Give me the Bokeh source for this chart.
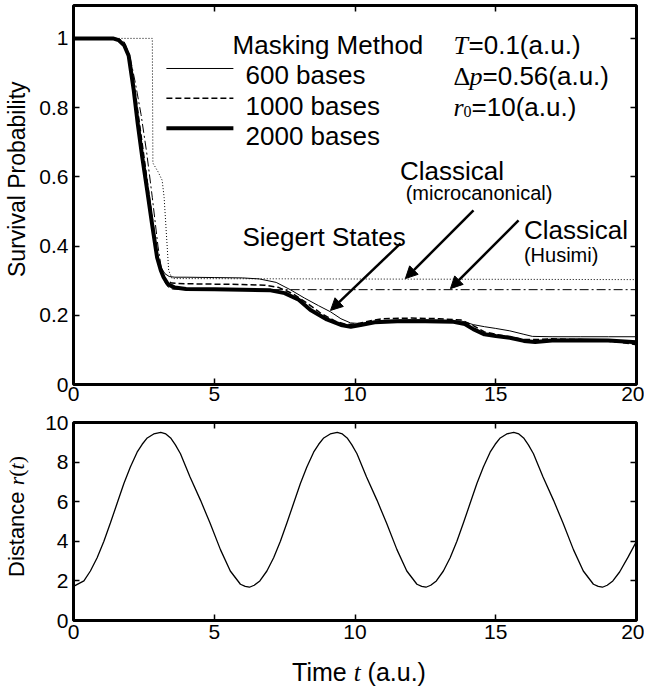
import numpy as np
from bokeh.plotting import figure
from bokeh.layouts import column, row
from bokeh.models import FixedTicker, LinearAxis, Label, Arrow, NormalHead, Range1d, Div
from bokeh.embed import file_html
from bokeh.resources import INLINE

SANS = "Liberation Sans"
SERIF = "Liberation Serif"

# ---------------- data ----------------
x_ticks = [0, 5, 10, 15, 20]
p_ticks = [0, 0.2, 0.4, 0.6, 0.8, 1]
p_tick_labels = {0: "0", 0.2: "0.2", 0.4: "0.4", 0.6: "0.6", 0.8: "0.8", 1: "1"}
r_ticks = [0, 2, 4, 6, 8, 10]

t_600 = [0, 1.4, 1.6, 1.8, 1.96, 2.14, 2.28, 2.44, 2.62, 2.79, 2.97, 3.1, 3.25, 3.4, 3.6, 4.0,
         5.0, 6.0, 6.6, 7.2, 7.7, 8.2, 8.7, 9.13, 9.5, 9.84, 10.2, 10.6, 11.0, 12.0, 13.0, 13.8,
         14.2, 14.6, 15.0, 15.5, 16.0, 16.3, 17.0, 18.0, 19.0, 20.0]
p_600 = [1.0, 1.0, 0.995, 0.98, 0.95, 0.86, 0.77, 0.67, 0.57, 0.47, 0.38, 0.34, 0.32, 0.312, 0.31, 0.31,
         0.309, 0.308, 0.305, 0.295, 0.274, 0.25, 0.228, 0.21, 0.19, 0.178, 0.176, 0.18, 0.185, 0.187, 0.186, 0.183,
         0.173, 0.167, 0.162, 0.155, 0.145, 0.139, 0.138, 0.138, 0.138, 0.138]

t_1000 = [0, 1.5, 1.7, 1.9, 2.05, 2.2, 2.35, 2.5, 2.68, 2.85, 3.0, 3.15, 3.3, 3.5, 4.0, 5.0, 6.0,
          6.8, 7.3, 7.8, 8.3, 8.8, 9.3, 9.7, 10.1, 10.6, 11.0, 12.0, 13.0, 13.8, 14.2, 14.6, 15.0,
          15.5, 16.0, 16.5, 17.0, 18.0, 18.6, 19.3, 20.0]
p_1000 = [1.0, 1.0, 0.99, 0.96, 0.92, 0.84, 0.75, 0.66, 0.55, 0.45, 0.36, 0.32, 0.3, 0.293, 0.291, 0.29, 0.289,
          0.287, 0.28, 0.262, 0.235, 0.205, 0.183, 0.173, 0.176, 0.185, 0.19, 0.192, 0.19, 0.186, 0.17, 0.152, 0.145,
          0.138, 0.13, 0.13, 0.132, 0.13, 0.128, 0.123, 0.115]

t_2000 = [0, 1.4, 1.6, 1.8, 1.96, 2.14, 2.28, 2.44, 2.62, 2.79, 2.97, 3.1, 3.2, 3.35, 3.6, 4.0, 5.0,
          6.0, 7.0, 7.5, 8.0, 8.42, 9.0, 9.5, 9.85, 10.2, 10.7, 11.5, 12.5, 13.5, 13.9, 14.2, 14.6,
          15.0, 15.5, 16.0, 16.4, 17.0, 18.0, 19.0, 20.0]
p_2000 = [1.0, 1.0, 0.995, 0.98, 0.95, 0.85, 0.755, 0.658, 0.56, 0.464, 0.367, 0.33, 0.31, 0.29, 0.28, 0.276, 0.275,
          0.274, 0.272, 0.264, 0.245, 0.215, 0.188, 0.172, 0.167, 0.172, 0.18, 0.183, 0.183, 0.181, 0.175, 0.16, 0.145,
          0.14, 0.135, 0.126, 0.123, 0.127, 0.128, 0.127, 0.122]

t_husimi = [0, 1.6, 1.8, 2.0, 2.2, 2.4, 2.6, 2.8, 3.0, 3.15, 3.3, 3.5, 4.0, 20.0]
p_husimi = [1.0, 1.0, 0.99, 0.95, 0.87, 0.78, 0.67, 0.54, 0.4, 0.32, 0.285, 0.276, 0.274, 0.274]

t_micro = [0, 2.8, 2.82, 3.0, 3.15, 3.22, 3.38, 3.5, 20.0]
p_micro = [1.0, 1.0, 0.64, 0.615, 0.59, 0.54, 0.33, 0.306, 0.303]

t_r = [0, 0.37, 0.6, 0.84, 1.08, 1.31, 1.55, 1.79, 2.02, 2.26, 2.44, 2.62, 2.85, 3.1, 3.28, 3.45, 3.62,
       3.8, 4.14, 4.51, 4.85, 5.22, 5.57, 5.93, 6.1, 6.25, 6.42,
       6.62, 6.87, 7.11, 7.35, 7.58, 7.82, 8.06, 8.29, 8.53, 8.71, 8.89, 9.12, 9.37, 9.55, 9.72, 9.89,
       10.07, 10.41, 10.78, 11.12, 11.49, 11.84, 12.2, 12.37, 12.52, 12.69,
       12.89, 13.14, 13.38, 13.62, 13.85, 14.09, 14.33, 14.56, 14.8, 14.98, 15.16, 15.39, 15.64, 15.82, 15.99, 16.16,
       16.34, 16.68, 17.05, 17.39, 17.76, 18.11, 18.47, 18.64, 18.79, 18.96,
       19.16, 19.4, 19.7, 20.0]
r_t = [1.72, 2.0, 2.5, 3.17, 4.0, 4.92, 5.92, 6.92, 7.75, 8.5, 8.9, 9.22, 9.42, 9.5, 9.42, 9.22, 8.87,
       8.42, 7.25, 6.08, 4.92, 3.58, 2.5, 1.83, 1.72, 1.68, 1.78,
       2.0, 2.5, 3.17, 4.0, 4.92, 5.92, 6.92, 7.75, 8.5, 8.9, 9.22, 9.42, 9.5, 9.42, 9.22, 8.87,
       8.42, 7.25, 6.08, 4.92, 3.58, 2.5, 1.83, 1.72, 1.68, 1.78,
       2.0, 2.5, 3.17, 4.0, 4.92, 5.92, 6.92, 7.75, 8.5, 8.9, 9.22, 9.42, 9.5, 9.42, 9.22, 8.87,
       8.42, 7.25, 6.08, 4.92, 3.58, 2.5, 1.83, 1.72, 1.68, 1.78,
       2.0, 2.45, 3.2, 4.0]

# ---------------- helpers ----------------
def style(p, yticks, overrides=None):
    p.xgrid.visible = False
    p.ygrid.visible = False
    p.outline_line_color = "black"
    p.outline_line_width = 3
    p.outline_line_alpha = 1
    for ax in p.xaxis + p.yaxis:
        ax.axis_line_color = None
        ax.major_tick_in = 6
        ax.major_tick_out = 0
        ax.major_tick_line_width = 1.5
        ax.minor_tick_line_color = None
        ax.major_label_text_font = SANS
        ax.major_label_text_font_size = "21px"
        ax.major_label_text_color = "black"
    p.xaxis.ticker = FixedTicker(ticks=x_ticks)
    p.yaxis.ticker = FixedTicker(ticks=yticks)
    p.xaxis.major_label_standoff = 2
    p.yaxis.major_label_standoff = 5
    if overrides:
        p.yaxis.major_label_overrides = overrides
    for loc, tk in (("above", x_ticks), ("right", yticks)):
        ax = LinearAxis(ticker=FixedTicker(ticks=tk), axis_line_color=None, major_tick_in=6,
                        major_tick_out=0, major_tick_line_width=1.5, minor_tick_line_color=None,
                        major_label_text_font_size="0px", major_label_text_color=None,
                        major_label_standoff=0)
        p.add_layout(ax, loc)


def txt(p, x, y, s, size="26px", font=SANS, style_="normal", xo=0, yo=0):
    p.add_layout(Label(x=x, y=y, text=s, text_font=font, text_font_size=size,
                       text_font_style=style_, text_color="black", text_baseline="alphabetic",
                       text_align="left", x_offset=xo, y_offset=yo))


def vlabel(html, height, left, top, size):
    inner = ("<div style=\"position:absolute;left:%dpx;top:%dpx;transform-origin:0 0;"
             "transform:rotate(-90deg);white-space:nowrap;font-family:'Liberation Sans';"
             "font-size:%dpx;line-height:%dpx;color:black;\">%s</div>" % (left, top, size, size, html))
    return Div(text="<div style=\"position:relative;width:30px;height:%dpx;\">%s</div>" % (height, inner),
               width=30, height=height, margin=0)


# ---------------- top panel ----------------
top = figure(width=614, height=410, x_range=Range1d(0, 20), y_range=Range1d(0, 1.095),
             min_border_left=43, min_border_right=8, min_border_top=5, min_border_bottom=26,
             output_backend="svg", toolbar_location=None)
style(top, p_ticks, p_tick_labels)

top.line(t_micro, p_micro, line_color="black", line_width=1, line_dash="1 2")
top.line(t_husimi, p_husimi, line_color="black", line_width=1, line_dash="9 3 2 3")
top.line(t_600, p_600, line_color="black", line_width=1)
top.line(t_1000, p_1000, line_color="black", line_width=1.5, line_dash="6 3")
top.line(t_2000, p_2000, line_color="black", line_width=4)

# legend
top.line([3.3, 5.68], [0.913, 0.913], line_color="black", line_width=1)
top.line([3.3, 5.68], [0.827, 0.827], line_color="black", line_width=1.5, line_dash="6 3")
top.line([3.3, 5.68], [0.740, 0.740], line_color="black", line_width=4)
txt(top, 5.65, 0.980, "Masking Method")
txt(top, 6.11, 0.893, "600 bases")
txt(top, 6.11, 0.806, "1000 bases")
txt(top, 6.11, 0.717, "2000 bases")

# parameters
txt(top, 13.5, 0.980, "T", font=SERIF, style_="italic")
txt(top, 13.5, 0.980, "=0.1(a.u.)", xo=15)
txt(top, 13.5, 0.890, "\u0394", font=SERIF)
txt(top, 13.5, 0.890, "p", font=SERIF, style_="italic", xo=16)
txt(top, 13.5, 0.890, "=0.56(a.u.)", xo=29)
txt(top, 13.5, 0.801, "r", font=SERIF, style_="italic")
txt(top, 13.5, 0.801, "0", size="16px", font=SERIF, xo=10, yo=-4)
txt(top, 13.5, 0.801, "=10(a.u.)", xo=18)

# annotations
txt(top, 11.6, 0.618, "Classical")
txt(top, 11.8, 0.552, "(microcanonical)", size="20px")
txt(top, 6.0, 0.425, "Siegert States")
txt(top, 16.0, 0.445, "Classical")
txt(top, 16.0, 0.373, "(Husimi)", size="20px")

for (xs, ys, xe, ye) in [(11.62, 0.408, 9.13, 0.214), (14.21, 0.503, 11.79, 0.306),
                         (15.81, 0.474, 13.39, 0.277)]:
    top.add_layout(Arrow(end=NormalHead(size=12, fill_color="black", line_color="black", line_width=1),
                         x_start=xs, y_start=ys, x_end=xe, y_end=ye,
                         line_color="black", line_width=2.5))

top_lab = vlabel("Survival Probability", 410, 6, 277, 23)

# ---------------- bottom panel ----------------
bot = figure(width=614, height=242, x_range=Range1d(0, 20), y_range=Range1d(0, 10),
             min_border_left=43, min_border_right=8, min_border_top=12, min_border_bottom=32,
             output_backend="svg", toolbar_location=None)
style(bot, r_ticks)
bot.xaxis.major_label_standoff = 4
bot.line(t_r, r_t, line_color="black", line_width=1.3)

bot_lab = vlabel("Distance <i style=\"font-family:'Liberation Serif'\">r</i>"
                 "<span style=\"font-family:'Liberation Serif'\">(</span>"
                 "<i style=\"font-family:'Liberation Serif'\">t</i>"
                 "<span style=\"font-family:'Liberation Serif'\">)</span>", 242, 6, 167, 22)

xlab = Div(text=("<div style=\"width:644px;height:40px;box-sizing:border-box;padding-left:74px;"
                 "padding-top:2px;text-align:center;font-family:'Liberation Sans';font-size:25px;"
                 "line-height:36px;color:black;white-space:nowrap;\">Time "
                 "<i style=\"font-family:'Liberation Serif'\">t</i> (a.u.)</div>"),
           width=644, height=40, margin=0)

layout = column(row(top_lab, top), row(bot_lab, bot), xlab)
open("out.html", "w").write(file_html(layout, INLINE))
